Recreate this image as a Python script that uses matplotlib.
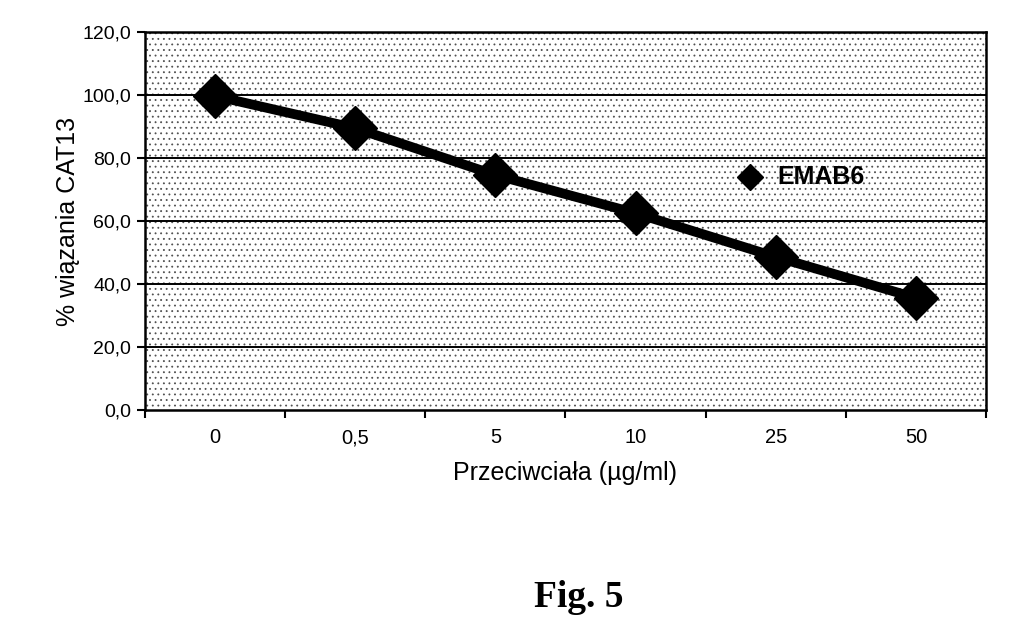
import matplotlib
matplotlib.use("Agg")
import matplotlib.pyplot as plt
from matplotlib.patches import Rectangle

categories = ["0", "0,5", "5", "10", "25", "50"]
emab6 = [99.7, 89.5, 74.6, 62.5, 48.6, 35.6]
yticks = [0, 20, 40, 60, 80, 100, 120]
ytick_labels = ["0,0", "20,0", "40,0", "60,0", "80,0", "100,0", "120,0"]

plt.rcParams['font.family'] = ['Liberation Sans', 'DejaVu Sans']
plt.rcParams['hatch.linewidth'] = 0.6

fig = plt.figure(figsize=(10.23, 6.41), dpi=100)
ax = fig.add_axes([0.1417, 0.3604, 0.8221, 0.5896])

n = len(categories)
ax.set_xlim(-0.5, n - 0.5)
ax.set_ylim(0, 120)

# stippled background
ax.add_patch(Rectangle((0, 0), 1, 1, transform=ax.transAxes, facecolor='white',
                       edgecolor='#505050', hatch='...', linewidth=0, zorder=0))

for y in yticks[1:-1]:
    ax.axhline(y, color='black', linewidth=1.4, zorder=1)

x = list(range(n))
ax.plot(x, emab6, color='black', linewidth=7, marker='D', markersize=22,
        zorder=3, label='EMAB6', solid_capstyle='butt')

ax.set_xticks([i - 0.5 for i in range(n + 1)])
ax.set_xticklabels([])
ax.set_xticks(x, minor=True)
ax.set_xticklabels(categories, minor=True)
ax.tick_params(axis='x', which='major', direction='out', length=6, width=1.5)
ax.tick_params(axis='x', which='minor', length=0, labelsize=14.5, pad=13)

ax.set_yticks(yticks)
ax.set_yticklabels(ytick_labels)
ax.tick_params(axis='y', direction='out', length=6, width=1.5, labelsize=14, pad=4)

for s in ax.spines.values():
    s.set_linewidth(1.8)

ax.set_xlabel("Przeciwciała (µg/ml)", fontsize=18, labelpad=10)
ax.set_ylabel("% wiązania CAT13", fontsize=18, labelpad=2)

ax.plot([0.72], [0.616], transform=ax.transAxes, marker='D', markersize=13,
        color='black', linestyle='none', zorder=4)
ax.text(0.752, 0.616, "EMAB6", transform=ax.transAxes, fontsize=18,
        fontweight='bold', va='center', ha='left', zorder=4)

fig.text(0.566, 0.068, "Fig. 5", fontsize=27, fontweight='bold',
         family='Liberation Serif', ha='center', va='center')

fig.savefig("out.png", dpi=100)
